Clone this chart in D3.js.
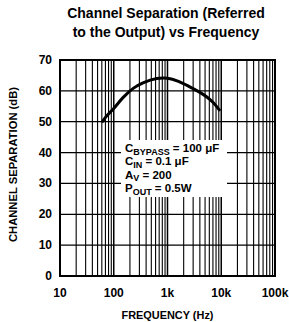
<!DOCTYPE html>
<html>
<head>
<meta charset="utf-8">
<script src="https://cdn.jsdelivr.net/npm/d3@7"></script>
<style>
  body { margin: 0; background: #fff; }
  svg { display: block; }
  .cond { font-family: "Liberation Sans Narrow", "Arial Narrow", "Liberation Sans", Arial, sans-serif; font-weight: bold; }
</style>
</head>
<body>
<div id="chart"></div>
<script>
// curve
var freq = [60, 75, 100, 150, 230, 350, 630, 1000, 1600, 2600, 4000, 5400, 7000, 9500];
var sep  = [49.8, 52.0, 54.3, 57.9, 60.8, 62.6, 64.0, 64.1, 63.1, 61.3, 59.5, 58.0, 56.3, 53.5];
var yTicks = [0, 10, 20, 30, 40, 50, 60, 70];
var xTicks = [10, 100, 1000, 10000, 100000];
var xTickLabels = ["10", "100", "1k", "10k", "100k"];
var notes = [
  ["C", "BYPASS", " = 100 \u03bcF"],
  ["C", "IN", " = 0.1 \u03bcF"],
  ["A", "V", " = 200"],
  ["P", "OUT", " = 0.5W"]
];

var margin = {top: 60, right: 14, bottom: 46, left: 60},
    width = 289 - margin.left - margin.right,
    height = 322 - margin.top - margin.bottom;

var x = d3.scaleLog().domain([10, 100000]).range([0, width]);
var y = d3.scaleLinear().domain([0, 70]).range([height, 0]);

var root = d3.select("#chart").append("svg").attr("width", 289).attr("height", 322);

// title
root.append("text").attr("x", 166).attr("y", 18).attr("text-anchor", "middle")
  .style("font-family", "Liberation Sans, Arial, sans-serif").style("font-weight", "bold").style("font-size", "14px")
  .text("Channel Separation (Referred");
root.append("text").attr("x", 166).attr("y", 37).attr("text-anchor", "middle")
  .style("font-family", "Liberation Sans, Arial, sans-serif").style("font-weight", "bold").style("font-size", "14px")
  .text("to the Output) vs Frequency");

var svg = root.append("g").attr("transform", "translate(" + margin.left + "," + margin.top + ")");

// grid: every minor log step
var minor = [];
for (var d = 10; d < 100000; d *= 10) {
  for (var k = 1; k <= 9; k++) minor.push(d * k);
}
svg.selectAll(".vg").data(minor).enter().append("line")
  .attr("x1", function (f) { return x(f); }).attr("x2", function (f) { return x(f); })
  .attr("y1", 0).attr("y2", height)
  .attr("stroke", "#000").attr("stroke-width", function (f) { return xTicks.indexOf(f) >= 0 ? 1.5 : 1.1; });
svg.selectAll(".hg").data(yTicks).enter().append("line")
  .attr("x1", 0).attr("x2", width)
  .attr("y1", function (v) { return y(v); }).attr("y2", function (v) { return y(v); })
  .attr("stroke", "#000").attr("stroke-width", 1.2);

// frame
svg.append("rect").attr("width", width).attr("height", height)
  .attr("fill", "none").attr("stroke", "#000").attr("stroke-width", 2);

// the curve
svg.append("path").datum(d3.zip(freq, sep))
  .attr("fill", "none").attr("stroke", "#000").attr("stroke-width", 3)
  .attr("d", d3.line().x(function (p) { return x(p[0]); }).y(function (p) { return y(p[1]); }).curve(d3.curveCatmullRom));

// notes box
svg.append("rect").attr("x", 61).attr("y", 80).attr("width", 106).attr("height", 57).attr("fill", "#fff");
var nt = svg.selectAll(".note").data(notes).enter().append("text")
  .attr("class", "cond").style("font-size", "11.5px")
  .attr("x", 65).attr("y", function (n, i) { return 92 + i * 13.4; });
nt.append("tspan").text(function (n) { return n[0]; });
nt.append("tspan").attr("dy", 2.5).style("font-size", "9px").text(function (n) { return n[1]; });
nt.append("tspan").attr("dy", -2.5).text(function (n) { return n[2]; });

// axes labels
svg.selectAll(".yl").data(yTicks).enter().append("text").attr("class", "cond")
  .style("font-size", "12px").attr("text-anchor", "end")
  .attr("x", -8).attr("y", function (v) { return y(v) + 4; })
  .text(function (v) { return v; });
svg.selectAll(".xl").data(xTicks).enter().append("text").attr("class", "cond")
  .style("font-size", "12px").attr("text-anchor", "middle")
  .attr("x", function (f) { return x(f); }).attr("y", height + 21)
  .text(function (f, i) { return xTickLabels[i]; });

svg.append("text").attr("class", "cond").style("font-size", "11px").attr("text-anchor", "middle")
  .attr("textLength", 92).attr("lengthAdjust", "spacingAndGlyphs")
  .attr("x", width / 2).attr("y", height + 43).text("FREQUENCY (Hz)");
svg.append("text").attr("class", "cond").style("font-size", "11px").attr("text-anchor", "middle")
  .attr("textLength", 155).attr("lengthAdjust", "spacingAndGlyphs")
  .attr("transform", "translate(-43,104.5) rotate(-90)").text("CHANNEL SEPARATION (dB)");
</script>
</body>
</html>
